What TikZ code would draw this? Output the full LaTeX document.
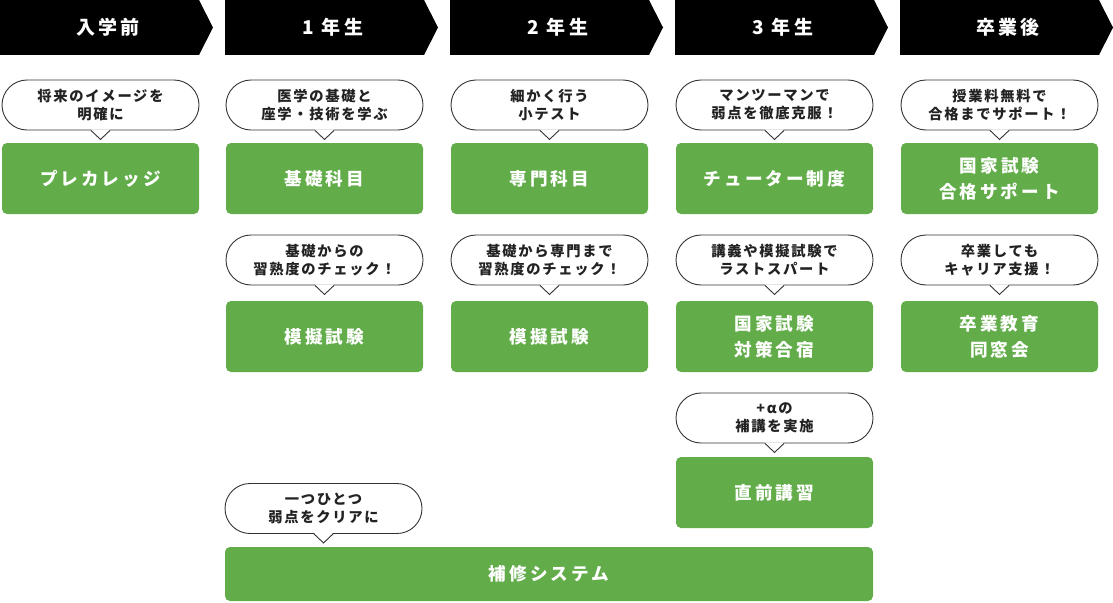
\documentclass[tikz,border=0pt]{standalone}
\usepackage{fontspec}
\setmainfont{Noto Sans CJK JP}
\newfontfamily\bubfont{Noto Sans CJK JP}[LetterSpace=12]
\newfontfamily\boxfont{Noto Sans CJK JP}[LetterSpace=17]
\usetikzlibrary{shapes.misc}
\definecolor{grn}{HTML}{62AD4A}
\definecolor{ink}{HTML}{333333}
\definecolor{txt}{HTML}{222222}
\tikzset{
  hdrshape/.style={fill=black},
  hdrtext/.style={text=white, inner sep=0pt, font=\boxfont\bfseries\fontsize{19}{22}\selectfont},
  bubble/.style={rounded rectangle, draw=ink, line width=0.9pt, fill=white,
    minimum width=197pt, minimum height=50pt, inner sep=0pt, align=center,
    text=txt, font=\bubfont\bfseries\fontsize{14.3}{18}\selectfont},
  gbox/.style={rectangle, rounded corners=5pt, fill=grn, minimum width=197pt,
    minimum height=71pt, inner sep=0pt, align=center, text=white,
    font=\boxfont\bfseries\fontsize{17.6}{26}\selectfont},
  tailfill/.style={fill=white},
  tailline/.style={draw=ink, line width=0.9pt, line join=miter},
}
\newcommand\bubtail[1]{%
  \fill[tailfill] (#1.south) ++(-9.6,-1.2) -- ++(9.6,10.2) -- ++(9.6,-10.2) -- cycle;
  \draw[tailline] (#1.south) ++(-9.5,0) -- ++(9.5,9) -- ++(9.5,-9);
}
\newcommand\hdr[3]{%
  \fill[hdrshape] (#1,0) -- ++(199,0) -- ++(14,27.5) -- ++(-14,27.5) -- ++(-199,0) -- cycle;
  \node[hdrtext] (#2) at (#1+108,27.5) {#3};
}
\begin{document}
\begin{tikzpicture}[x=1pt,y=-1pt]
\useasboundingbox (0,0) rectangle (1113,602);

% headers
\hdr{0}{h0}{入学前}
\hdr{225}{h1}{1 年生}
\hdr{450}{h2}{2 年生}
\hdr{675}{h3}{3 年生}
\hdr{900}{h4}{卒業後}

% column 0
\node[bubble] (b01) at (100.5,105) {将来のイメージを\\明確に};
\bubtail{b01}
\node[gbox] (g01) at (100.5,178.5) {プレカレッジ};

% column 1
\node[bubble] (b11) at (324.5,105) {医学の基礎と\\座学・技術を学ぶ};
\bubtail{b11}
\node[gbox] (g11) at (324.5,178.5) {基礎科目};
\node[bubble] (b12) at (324.5,260) {基礎からの\\習熟度のチェック！};
\bubtail{b12}
\node[gbox] (g12) at (324.5,336.5) {模擬試験};
\node[bubble] (b13) at (323.5,508.5) {一つひとつ\\弱点をクリアに};
\bubtail{b13}

% column 2
\node[bubble] (b21) at (549.5,105) {細かく行う\\小テスト};
\bubtail{b21}
\node[gbox] (g21) at (549.5,178.5) {専門科目};
\node[bubble] (b22) at (549.5,260) {基礎から専門まで\\習熟度のチェック！};
\bubtail{b22}
\node[gbox] (g22) at (549.5,336.5) {模擬試験};

% column 3
\node[bubble] (b31) at (774.5,105) {マンツーマンで\\弱点を徹底克服！};
\bubtail{b31}
\node[gbox] (g31) at (774.5,178.5) {チューター制度};
\node[bubble] (b32) at (774.5,260) {講義や模擬試験で\\ラストスパート};
\bubtail{b32}
\node[gbox] (g32) at (774.5,336.5) {国家試験\\対策合宿};
\node[bubble] (b33) at (774.5,418) {+αの\\補講を実施};
\bubtail{b33}
\node[gbox] (g33) at (774.5,492.5) {直前講習};

% column 4
\node[bubble] (b41) at (999.5,105) {授業料無料で\\合格までサポート！};
\bubtail{b41}
\node[gbox] (g41) at (999.5,178.5) {国家試験\\合格サポート};
\node[bubble] (b42) at (999.5,260) {卒業しても\\キャリア支援！};
\bubtail{b42}
\node[gbox] (g42) at (999.5,336.5) {卒業教育\\同窓会};

% bottom bar
\node[gbox, minimum width=648pt, minimum height=54pt] (bar) at (549,574) {補修システム};
\end{tikzpicture}
\end{document}
